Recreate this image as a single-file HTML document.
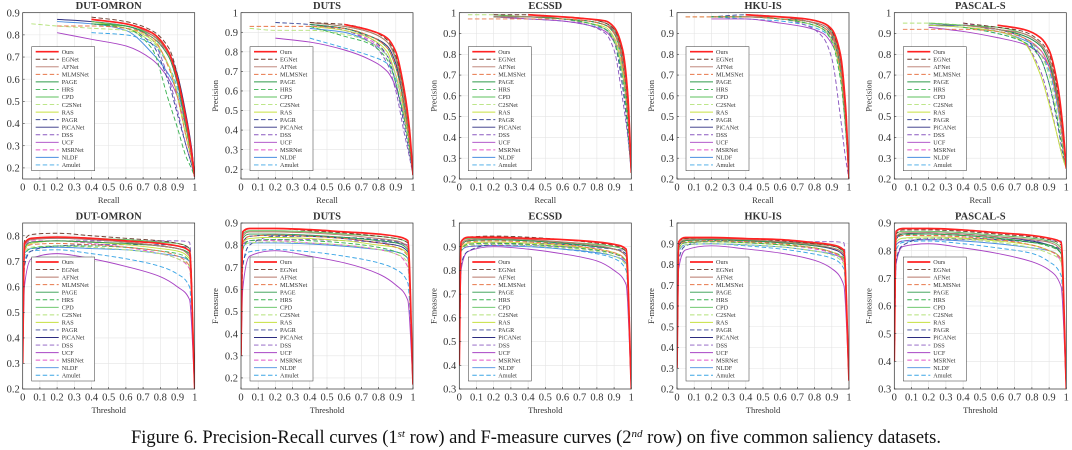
<!DOCTYPE html>
<html><head><meta charset="utf-8"><style>
html,body{margin:0;padding:0;background:#fff;width:1072px;height:450px;overflow:hidden}
svg{display:block}
text{font-family:"Liberation Serif",serif;fill:#333}
</style></head><body>
<svg id="fig" width="1072" height="450" viewBox="0 0 1072 450" xmlns="http://www.w3.org/2000/svg">
<text x="536" y="443" text-anchor="middle" style="font-size:18.5px;fill:#111">Figure 6. Precision-Recall curves (1<tspan dy="-6" font-size="11" font-style="italic">st</tspan><tspan dy="6"> row) and F-measure curves (2</tspan><tspan dy="-6" font-size="11" font-style="italic">nd</tspan><tspan dy="6"> row) on five common saliency datasets.</tspan></text>
</svg>
<script>
const methods=["Ours","EGNet","AFNet","MLMSNet","PAGE","HRS","CPD","C2SNet","RAS","PAGR","PiCANet","DSS","UCF","MSRNet","NLDF","Amulet"];
const colors=["#ff2222","#6b3b2e","#b8786a","#e8774a","#2f9a4a","#3cb454","#5cc05c","#b4e27a","#c6e040","#3c4a9a","#2c2c80","#8a58c0","#a844c4","#e454c8","#4a8ee0","#3ca6e6"];
const dashed=[false,true,false,true,false,true,false,true,false,true,false,true,false,true,false,true];
const datasets=["DUT-OMRON","DUTS","ECSSD","HKU-IS","PASCAL-S"];
const recallGrid=[0.05,0.2,0.4,0.6,0.75,0.85,0.9,0.95,0.98,1];
const thresholdGrid=[0,0.01,0.05,0.2,0.4,0.6,0.8,0.9,0.97,1];
const prRange=[[0.15,0.9],[0.15,1],[0.2,1],[0.2,1],[0.2,1]];
const fRange=[[0.2,0.85],[0.15,0.9],[0.3,1],[0.2,1],[0.3,0.9]];
const prTicks=[[0.2,0.3,0.4,0.5,0.6,0.7,0.8,0.9],[0.2,0.3,0.4,0.5,0.6,0.7,0.8,0.9,1],[0.2,0.3,0.4,0.5,0.6,0.7,0.8,0.9,1],[0.2,0.3,0.4,0.5,0.6,0.7,0.8,0.9,1],[0.2,0.3,0.4,0.5,0.6,0.7,0.8,0.9,1]];
const fTicks=[[0.2,0.3,0.4,0.5,0.6,0.7,0.8],[0.2,0.3,0.4,0.5,0.6,0.7,0.8,0.9],[0.3,0.4,0.5,0.6,0.7,0.8,0.9,1],[0.2,0.3,0.4,0.5,0.6,0.7,0.8,0.9,1],[0.3,0.4,0.5,0.6,0.7,0.8,0.9]];
const xTicks=[0,0.1,0.2,0.3,0.4,0.5,0.6,0.7,0.8,0.9,1];
const n=null;
const prDUTO=[[n,n,.87,.85,.81,.72,.6,.42,.28,.16],[n,n,.88,.86,.82,.74,.62,.42,.27,.16],[n,n,.87,.85,.8,.71,.6,.4,.26,.16],[n,.84,.84,.83,.79,.65,.52,.34,.24,.16],[n,n,.85,.84,.79,.7,.58,.38,.26,.16],[n,n,.85,.83,.74,.5,.38,.25,.2,.16],[n,n,.86,.84,.8,.72,.6,.4,.27,.16],[.85,.84,.83,.82,.77,.66,.54,.36,.25,.16],[n,n,.86,.83,.78,.66,.52,.34,.24,.16],[n,n,.85,.83,.76,.58,.44,.3,.22,.16],[n,.87,.86,.84,.8,.72,.62,.44,.3,.16],[n,n,.86,.84,.78,.6,.46,.3,.22,.16],[n,.81,.78,.75,.69,.6,.52,.38,.3,.16],[n,n,.87,.85,.8,.7,.58,.4,.27,.16],[n,.86,.85,.82,.72,.62,.54,.4,.28,.16],[n,n,.81,.8,.76,.66,.56,.4,.28,.16]];
const prDUTS=[[n,n,n,.94,.91,.87,.8,.6,.4,.17],[n,n,.95,.94,.91,.86,.78,.58,.38,.17],[n,n,.95,.93,.9,.85,.76,.55,.36,.17],[.93,.93,.93,.92,.88,.82,.72,.5,.33,.17],[n,n,.94,.92,.88,.82,.72,.52,.34,.17],[n,n,.93,.88,.84,.76,.64,.45,.3,.17],[n,n,.95,.93,.9,.85,.77,.57,.37,.17],[.92,.91,.91,.89,.85,.78,.68,.48,.32,.17],[n,n,.93,.91,.87,.8,.68,.48,.32,.17],[n,.95,.94,.92,.87,.78,.64,.42,.28,.17],[n,n,.94,.92,.88,.83,.74,.52,.34,.17],[n,n,.94,.91,.85,.74,.6,.38,.26,.17],[n,.87,.85,.81,.76,.7,.62,.46,.33,.17],[n,n,.94,.91,.86,.78,.68,.48,.32,.17],[n,n,.92,.9,.85,.78,.68,.48,.32,.17],[n,n,.87,.82,.78,.74,.66,.5,.35,.17]];
const prECSSD=[[n,n,.99,.98,.97,.96,.93,.82,.6,.23],[n,.99,.99,.98,.97,.95,.92,.8,.56,.23],[n,.98,.98,.98,.97,.95,.91,.78,.55,.23],[.97,.97,.97,.97,.96,.94,.9,.75,.5,.23],[n,.98,.98,.97,.96,.94,.9,.76,.5,.23],[n,.98,.98,.97,.95,.92,.86,.68,.45,.23],[n,.99,.98,.98,.97,.95,.92,.8,.55,.23],[.99,.99,.98,.97,.95,.92,.87,.7,.48,.23],[n,.98,.98,.97,.95,.93,.88,.72,.5,.23],[n,.98,.98,.97,.95,.92,.86,.64,.42,.23],[n,.98,.98,.97,.96,.94,.91,.78,.55,.23],[n,.98,.98,.97,.94,.9,.82,.58,.4,.23],[n,.98,.97,.96,.94,.91,.86,.74,.56,.23],[n,.99,.98,.97,.95,.92,.87,.72,.5,.23],[n,.98,.98,.97,.95,.92,.87,.7,.48,.23],[n,.98,.97,.96,.94,.92,.88,.74,.52,.23]];
const prHKU=[[n,n,.99,.98,.97,.95,.92,.8,.55,.2],[n,n,.99,.98,.97,.95,.91,.78,.52,.2],[n,n,.98,.98,.96,.94,.9,.76,.5,.2],[.98,.98,.98,.97,.96,.93,.89,.72,.48,.2],[n,.98,.98,.97,.96,.93,.89,.74,.48,.2],[n,.98,.98,.97,.95,.92,.86,.68,.44,.2],[n,.98,.98,.98,.97,.95,.91,.78,.52,.2],[.98,.98,.98,.97,.95,.92,.87,.7,.46,.2],[n,.98,.98,.97,.95,.92,.87,.7,.46,.2],[n,.98,.99,.98,.96,.93,.88,.7,.44,.2],[n,n,.99,.98,.96,.94,.9,.76,.5,.2],[n,.98,.98,.97,.94,.88,.78,.5,.3,.2],[n,.97,.97,.95,.93,.9,.85,.74,.54,.2],[n,.98,.98,.97,.95,.92,.87,.72,.48,.2],[n,.98,.98,.97,.95,.92,.87,.72,.48,.2],[n,.98,.97,.96,.94,.91,.87,.74,.5,.2]];
const prPASCAL=[[n,n,n,.94,.92,.88,.82,.65,.45,.25],[n,n,.95,.93,.91,.86,.8,.62,.42,.25],[n,n,.94,.92,.9,.85,.78,.6,.4,.25],[.92,.92,.92,.91,.88,.82,.74,.56,.38,.25],[n,n,.94,.92,.89,.84,.76,.58,.4,.25],[n,n,.93,.9,.86,.78,.66,.48,.34,.25],[n,.95,.94,.93,.9,.85,.78,.6,.4,.25],[.95,.95,.94,.92,.88,.8,.7,.5,.35,.25],[n,.94,.93,.91,.86,.7,.56,.4,.3,.25],[n,.94,.94,.92,.88,.78,.66,.46,.32,.25],[n,.94,.94,.92,.89,.84,.76,.58,.4,.25],[n,.94,.94,.91,.86,.72,.58,.4,.3,.25],[n,.93,.91,.88,.85,.8,.74,.6,.44,.25],[n,n,.95,.92,.88,.82,.74,.56,.38,.25],[n,.94,.93,.91,.87,.82,.74,.55,.38,.25],[n,.94,.93,.9,.86,.8,.72,.54,.38,.25]];
const fDUTO=[[.3,.77,.79,.795,.79,.78,.77,.76,.74,.2],[.3,.78,.805,.81,.8,.79,.78,.77,.75,.2],[.3,.76,.785,.79,.785,.775,.76,.75,.72,.2],[.3,.74,.765,.77,.765,.755,.74,.72,.68,.2],[.3,.75,.775,.78,.775,.77,.76,.75,.73,.2],[.3,.72,.75,.76,.76,.755,.74,.73,.7,.2],[.3,.77,.79,.795,.79,.785,.775,.77,.75,.2],[.3,.73,.755,.76,.755,.745,.73,.71,.68,.2],[.3,.74,.77,.78,.775,.765,.75,.74,.71,.2],[.3,.68,.74,.76,.765,.765,.765,.76,.75,.2],[.3,.76,.785,.79,.785,.775,.76,.75,.72,.2],[.3,.74,.77,.78,.78,.78,.78,.78,.775,.2],[.3,.6,.71,.73,.71,.68,.64,.6,.55,.2],[.3,.75,.78,.78,.77,.755,.73,.71,.67,.2],[.3,.73,.75,.755,.75,.745,.73,.72,.7,.2],[.3,.7,.74,.745,.73,.71,.68,.65,.6,.2]];
const fDUTS=[[.3,.86,.875,.875,.87,.86,.85,.84,.82,.17],[.3,.85,.875,.875,.865,.855,.84,.83,.81,.17],[.3,.84,.86,.86,.855,.845,.83,.82,.79,.17],[.3,.81,.84,.845,.84,.83,.81,.79,.75,.17],[.3,.83,.85,.85,.845,.835,.82,.81,.78,.17],[.3,.78,.82,.825,.82,.81,.79,.77,.74,.17],[.3,.85,.865,.865,.86,.85,.84,.83,.81,.17],[.3,.79,.81,.815,.81,.8,.78,.76,.72,.17],[.3,.81,.83,.835,.83,.82,.8,.79,.76,.17],[.3,.7,.8,.84,.84,.835,.825,.815,.79,.17],[.3,.81,.84,.845,.84,.83,.81,.8,.77,.17],[.3,.8,.82,.825,.825,.82,.815,.81,.8,.17],[.3,.6,.75,.775,.75,.72,.67,.62,.55,.17],[.3,.8,.82,.82,.81,.8,.78,.76,.7,.17],[.3,.79,.81,.81,.805,.795,.78,.77,.74,.17],[.3,.72,.77,.78,.77,.75,.72,.69,.63,.17]];
const fECSSD=[[.4,.92,.94,.94,.935,.93,.92,.91,.89,.3],[.4,.92,.94,.945,.94,.93,.915,.905,.88,.3],[.4,.91,.93,.935,.93,.92,.905,.89,.86,.3],[.4,.9,.92,.925,.92,.91,.89,.875,.84,.3],[.4,.9,.925,.93,.925,.915,.9,.89,.86,.3],[.4,.88,.91,.915,.91,.9,.885,.87,.84,.3],[.4,.92,.935,.935,.93,.92,.91,.9,.88,.3],[.4,.88,.905,.91,.905,.895,.88,.86,.82,.3],[.4,.89,.915,.92,.915,.905,.89,.875,.84,.3],[.4,.82,.88,.91,.915,.91,.9,.89,.87,.3],[.4,.9,.925,.93,.925,.915,.9,.89,.86,.3],[.4,.88,.9,.905,.905,.9,.895,.89,.88,.3],[.4,.8,.88,.9,.89,.87,.84,.8,.74,.3],[.4,.89,.91,.915,.91,.9,.885,.87,.83,.3],[.4,.88,.9,.905,.9,.89,.875,.86,.83,.3],[.4,.88,.91,.915,.905,.89,.87,.85,.8,.3]];
const fHKU=[[.3,.91,.93,.93,.925,.92,.905,.895,.87,.24],[.3,.91,.925,.93,.925,.915,.9,.89,.86,.24],[.3,.9,.92,.925,.92,.91,.895,.88,.85,.24],[.3,.89,.91,.915,.91,.9,.88,.86,.82,.24],[.3,.9,.915,.92,.915,.905,.89,.88,.85,.24],[.3,.88,.905,.91,.905,.895,.88,.86,.83,.24],[.3,.91,.925,.925,.92,.91,.9,.89,.86,.24],[.3,.87,.895,.9,.895,.885,.865,.845,.8,.24],[.3,.88,.905,.91,.905,.895,.88,.86,.82,.24],[.3,.82,.89,.915,.915,.91,.9,.89,.86,.24],[.3,.89,.915,.92,.915,.905,.89,.875,.84,.24],[.3,.88,.905,.91,.91,.91,.91,.91,.905,.24],[.3,.78,.87,.89,.875,.855,.82,.78,.7,.24],[.3,.88,.905,.91,.905,.895,.875,.855,.81,.24],[.3,.87,.895,.9,.895,.885,.865,.85,.82,.24],[.3,.86,.895,.9,.89,.875,.85,.83,.78,.24]];
const fPASCAL=[[.4,.87,.88,.88,.875,.865,.855,.845,.83,.3],[.4,.86,.875,.875,.87,.86,.85,.84,.82,.3],[.4,.85,.865,.865,.86,.85,.84,.83,.8,.3],[.4,.84,.855,.855,.85,.84,.82,.8,.77,.3],[.4,.85,.86,.86,.855,.845,.83,.82,.79,.3],[.4,.84,.855,.86,.855,.845,.83,.815,.79,.3],[.4,.86,.87,.87,.865,.855,.845,.835,.81,.3],[.4,.83,.845,.845,.84,.83,.81,.79,.76,.3],[.4,.83,.845,.85,.845,.835,.82,.8,.77,.3],[.4,.76,.82,.845,.845,.84,.83,.82,.8,.3],[.4,.84,.86,.865,.86,.85,.835,.82,.79,.3],[.4,.82,.835,.84,.84,.838,.835,.835,.835,.3],[.4,.75,.815,.825,.81,.79,.76,.73,.67,.3],[.4,.84,.855,.855,.85,.84,.82,.8,.76,.3],[.4,.82,.835,.84,.835,.825,.81,.8,.77,.3],[.4,.8,.83,.835,.825,.81,.79,.76,.71,.3]];
const prData=[prDUTO,prDUTS,prECSSD,prHKU,prPASCAL];
const fData=[fDUTO,fDUTS,fECSSD,fHKU,fPASCAL];

const NS="http://www.w3.org/2000/svg";
const svg=document.getElementById("fig");
const X0=[22.7,241,459.3,677,894.3], PW=172;
const ROWS=[{top:12.7,bot:179},{top:223,bot:389}];
function mk(tag,attrs,parent){const e=document.createElementNS(NS,tag);for(const k in attrs)e.setAttribute(k,attrs[k]);(parent||svg).appendChild(e);return e;}
function monotonePath(pts){
  const m=pts.length; if(m<2) return "";
  const d=[],s=[];
  for(let i=0;i<m-1;i++){d.push(pts[i+1][0]-pts[i][0]);s.push((pts[i+1][1]-pts[i][1])/d[i]);}
  const t=[s[0]];
  for(let i=1;i<m-1;i++){ if(s[i-1]*s[i]<=0) t.push(0); else {const w1=2*d[i]+d[i-1],w2=d[i]+2*d[i-1]; t.push((w1+w2)/(w1/s[i-1]+w2/s[i]));}}
  t.push(s[m-2]);
  let p="M"+pts[0][0].toFixed(2)+","+pts[0][1].toFixed(2);
  for(let i=0;i<m-1;i++){const h=d[i]/3;
    p+="C"+(pts[i][0]+h).toFixed(2)+","+(pts[i][1]+t[i]*h).toFixed(2)+" "+(pts[i+1][0]-h).toFixed(2)+","+(pts[i+1][1]-t[i+1]*h).toFixed(2)+" "+pts[i+1][0].toFixed(2)+","+pts[i+1][1].toFixed(2);}
  return p;
}
function panel(r,c){
  const x0=X0[c], row=ROWS[r];
  const range=r===0?prRange[c]:fRange[c];
  const ticks=r===0?prTicks[c]:fTicks[c];
  const grid=r===0?recallGrid:thresholdGrid;
  const data=r===0?prData[c]:fData[c];
  const sx=v=>x0+v*PW;
  const sy=v=>row.bot-(v-range[0])/(range[1]-range[0])*(row.bot-row.top);
  const g=mk("g",{});
  
  
  const clipId="clip"+r+c;
  const cp=mk("clipPath",{id:clipId},g);
  mk("rect",{x:x0,y:row.top,width:PW,height:row.bot-row.top},cp);
  // grid
  xTicks.forEach(v=>{const l=mk("line",{x1:sx(v),x2:sx(v),y1:row.top,y2:row.bot,stroke:"#e4e4e4","stroke-width":0.6},g);
    
    });
  ticks.forEach(v=>{const l=mk("line",{x1:x0,x2:x0+PW,y1:sy(v),y2:sy(v),stroke:"#e4e4e4","stroke-width":0.6},g);
    
    });
  // curves
  const cg=mk("g",{"clip-path":"url(#"+clipId+")"},g);
  for(let k=data.length-1;k>=0;k--){
    const pts=[];
    data[k].forEach((v,i)=>{if(v!==null) pts.push([sx(grid[i]),sy(v)]);});
    const p=mk("path",{d:monotonePath(pts),fill:"none",stroke:colors[k],"stroke-width":k===0?1.7:0.95},cg);
    if(dashed[k]) p.setAttribute("stroke-dasharray","4.5,2.5");
    
    
  }
  // axes box
  const box=mk("rect",{x:x0,y:row.top,width:PW,height:row.bot-row.top,fill:"none",stroke:"#333","stroke-width":0.7},g);
  
  
  // tick labels
  xTicks.forEach(v=>{const t=mk("text",{x:sx(v),y:row.bot+11.5,"text-anchor":"middle","font-size":"10.5"},g);t.textContent=String(v);
    
    
    mk("line",{x1:sx(v),x2:sx(v),y1:row.bot,y2:row.bot-2,stroke:"#333","stroke-width":0.6},g);});
  ticks.forEach(v=>{const t=mk("text",{x:x0-3,y:sy(v)+3.6,"text-anchor":"end","font-size":"10.5"},g);t.textContent=String(v);
    
    
    mk("line",{x1:x0,x2:x0+2,y1:sy(v),y2:sy(v),stroke:"#333","stroke-width":0.6},g);});
  const title=mk("text",{x:x0+PW/2,y:row.top-3.5,"text-anchor":"middle","font-size":"10.5","font-weight":"bold",fill:"#111"},g);
  title.textContent=datasets[c];
  
  
  const xl=mk("text",{x:x0+PW/2,y:row.bot+24,"text-anchor":"middle","font-size":"8.5",fill:"#555"},g);
  xl.textContent=r===0?"Recall":"Threshold";
  
  
  const yc=(row.top+row.bot)/2, yx=x0-23;
  const yl=mk("text",{x:yx,y:yc,"text-anchor":"middle","font-size":"8.5",fill:"#555",transform:"rotate(-90 "+yx+" "+yc+")"},g);
  yl.textContent=r===0?"Precision":"F-measure";
  
  
  // legend
  const lx=x0+9, ly=row.top+34, lw=63, lh=124;
  const lg=mk("g",{},g);
  
  
  mk("rect",{x:lx,y:ly,width:lw,height:lh,fill:"#fff",stroke:"#333","stroke-width":0.5},lg);
  methods.forEach((m,k)=>{
    const yy=ly+5+k*7.55;
    const e=mk("g",{},lg);
    
    
    const l=mk("line",{x1:lx+4,x2:lx+27,y1:yy,y2:yy,stroke:colors[k],"stroke-width":k===0?1.7:0.95},e);
    if(dashed[k]) l.setAttribute("stroke-dasharray","4.5,2.5");
    const t=mk("text",{x:lx+30,y:yy+2.2,"font-size":"6.2",fill:"#333"},e);
    t.textContent=m;
  });
}
for(let r=0;r<2;r++)for(let c=0;c<5;c++)panel(r,c);
</script>
</body></html>
